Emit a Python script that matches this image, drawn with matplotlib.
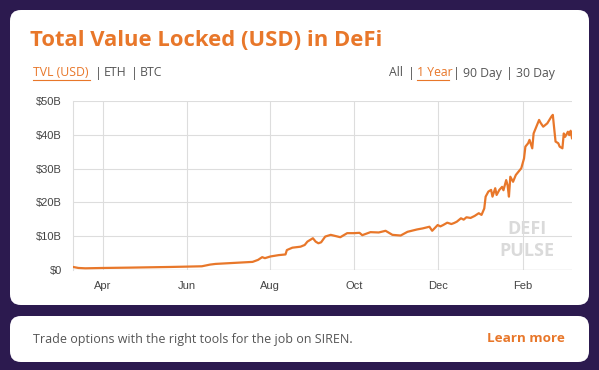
import numpy as np
import pandas as pd
import matplotlib
matplotlib.use("Agg")
import matplotlib.pyplot as plt
from matplotlib.patches import FancyBboxPatch
from matplotlib.lines import Line2D

# --- data ($B) ---
dates = [
    "2020-03-10", "2020-03-14", "2020-03-19", "2020-04-01", "2020-04-20", "2020-05-05",
    "2020-05-20", "2020-06-01", "2020-06-12", "2020-06-18", "2020-06-22", "2020-07-01",
    "2020-07-10", "2020-07-19", "2020-07-23", "2020-07-26", "2020-07-28", "2020-08-01",
    "2020-08-07", "2020-08-12", "2020-08-13", "2020-08-17", "2020-08-23", "2020-08-26",
    "2020-08-28", "2020-09-01", "2020-09-03", "2020-09-05", "2020-09-07", "2020-09-10",
    "2020-09-14", "2020-09-17", "2020-09-21", "2020-09-26", "2020-10-01", "2020-10-05",
    "2020-10-07", "2020-10-13", "2020-10-19", "2020-10-24", "2020-10-29", "2020-11-04",
    "2020-11-09", "2020-11-16", "2020-11-20", "2020-11-25", "2020-11-27", "2020-12-01",
    "2020-12-03", "2020-12-05", "2020-12-08", "2020-12-11", "2020-12-13", "2020-12-15",
    "2020-12-18", "2020-12-20", "2020-12-22", "2020-12-25", "2020-12-28", "2020-12-31",
    "2021-01-02", "2021-01-04", "2021-01-05", "2021-01-07", "2021-01-09", "2021-01-10",
    "2021-01-12", "2021-01-13", "2021-01-15", "2021-01-17", "2021-01-18", "2021-01-20",
    "2021-01-21", "2021-01-22", "2021-01-23", "2021-01-25", "2021-01-27", "2021-01-29",
    "2021-01-31", "2021-02-02", "2021-02-03", "2021-02-05", "2021-02-06", "2021-02-08",
    "2021-02-09", "2021-02-11", "2021-02-13", "2021-02-14", "2021-02-16", "2021-02-19",
    "2021-02-22", "2021-02-23", "2021-02-24", "2021-02-25", "2021-02-27", "2021-02-28",
    "2021-03-02", "2021-03-03", "2021-03-04", "2021-03-06", "2021-03-07", "2021-03-08",
    "2021-03-09",
]
tvl_b = [
    0.9, 0.6, 0.5, 0.6, 0.7, 0.8,
    0.9, 1.0, 1.1, 1.6, 1.8, 2.0,
    2.2, 2.4, 3.0, 3.8, 3.5, 4.0,
    4.4, 4.6, 5.9, 6.6, 6.9, 7.4,
    8.4, 9.4, 8.4, 7.9, 8.2, 9.9,
    10.4, 10.1, 9.7, 10.9, 10.9, 11.0,
    10.3, 11.2, 11.1, 11.6, 10.4, 10.2,
    11.3, 12.0, 12.3, 12.8, 11.6, 13.3,
    12.9, 13.3, 14.0, 13.6, 13.9, 14.3,
    15.3, 14.9, 15.6, 15.4, 16.0, 16.8,
    16.3, 18.2, 21.7, 23.2, 23.7, 21.7,
    24.2, 22.2, 23.7, 24.6, 23.6, 26.6,
    25.1, 21.7, 27.6, 26.1, 28.1, 29.1,
    30.1, 33.0, 36.5, 37.5, 38.5, 36.0,
    40.4, 42.4, 44.4, 43.6, 42.4, 43.4,
    45.4, 45.9, 41.9, 38.0, 37.5, 36.5,
    36.0, 40.4, 39.4, 40.9, 39.9, 41.2,
    39.0,
]
y_ticks = [0, 10, 20, 30, 40, 50]
y_tick_labels = ["$0", "$10B", "$20B", "$30B", "$40B", "$50B"]
x_tick_dates = ["2020-04-01", "2020-06-01", "2020-08-01", "2020-10-01", "2020-12-01", "2021-02-01"]
x_tick_labels = ["Apr", "Jun", "Aug", "Oct", "Dec", "Feb"]

W, H = 599, 370
PURPLE = "#2c1a4f"
ORANGE = "#e8772a"
GREY_TXT = "#555555"
UI_FONT = ["Open Sans", "DejaVu Sans"]


def fx(px):
    return px / W


def fy(py):
    return 1 - py / H


fig = plt.figure(figsize=(W / 100, H / 100), dpi=100, facecolor=PURPLE)

# cards (drawn under the axes)
for (x0, y0, x1, y1) in [(10, 10, 589, 305), (10, 316, 589, 362)]:
    card = FancyBboxPatch((fx(x0), fy(y1)), fx(x1 - x0), (y1 - y0) / H,
                          boxstyle="round,pad=0,rounding_size=0.018",
                          transform=fig.transFigure, fc="white", ec="none",
                          mutation_aspect=W / H, zorder=-5)
    fig.patches.append(card)

# titles and selectors
fig.text(fx(30), fy(40), "Total Value Locked (USD) in DeFi", color=ORANGE,
         fontsize=15.8, fontweight="bold", family=UI_FONT, va="center", ha="left")

def pieces(items, y):
    for x, s, col in items:
        fig.text(fx(x), fy(y), s, color=col, fontsize=8.8, family=UI_FONT,
                 va="center", ha="left")

pieces([(33, "TVL (USD)", ORANGE), (95, "|", GREY_TXT), (104, "ETH", GREY_TXT),
        (131, "|", GREY_TXT), (140, "BTC", GREY_TXT)], 73)
pieces([(389, "All", GREY_TXT), (408, "|", GREY_TXT), (417, "1 Year", ORANGE),
        (453, "|", GREY_TXT), (463, "90 Day", GREY_TXT), (506, "|", GREY_TXT),
        (516, "30 Day", GREY_TXT)], 73)
for x0, x1 in [(33, 90), (417, 449)]:
    fig.lines.append(Line2D([fx(x0), fx(x1)], [fy(80), fy(80)], transform=fig.transFigure,
                            color=ORANGE, lw=0.8))

# chart
ax = fig.add_axes([fx(73), fy(270), fx(572 - 73), (270 - 101) / H])
ax.patch.set_alpha(0)
d = pd.to_datetime(dates)
ax.plot(d, tvl_b, color=ORANGE, lw=1.6, solid_joinstyle="round", zorder=3)
ax.set_xlim(pd.Timestamp("2020-03-10"), pd.Timestamp("2021-03-09"))
ax.set_ylim(0, 50)
ax.set_yticks(y_ticks)
ax.set_yticklabels(y_tick_labels)
ax.set_xticks(pd.to_datetime(x_tick_dates))
ax.set_xticklabels(x_tick_labels)
ax.grid(True, color="#dddddd", lw=0.8)
ax.set_axisbelow(True)
for side in ["top", "right", "bottom"]:
    ax.spines[side].set_visible(False)
ax.spines["left"].set_color("#dddddd")
ax.spines["left"].set_linewidth(0.8)
ax.axhline(0, color="#cccccc", lw=0.9, zorder=1)
ax.tick_params(length=0, labelsize=8, labelcolor="#444444", pad=8)
for lab in ax.get_xticklabels() + ax.get_yticklabels():
    lab.set_family(["Liberation Sans", "DejaVu Sans"])

# watermark
for y, s in [(229, "DEFI"), (251, "PULSE")]:
    ax.text(fx(527), fy(y), s, color="#dadada", fontsize=13, fontweight="bold",
            family=UI_FONT, ha="center", va="center", zorder=0,
            transform=fig.transFigure)

# bottom banner
fig.text(fx(33), fy(339), "Trade options with the right tools for the job on SIREN.",
         color=GREY_TXT, fontsize=9, family=UI_FONT, ha="left", va="center")
fig.text(fx(565), fy(339), "Learn more", color=ORANGE, fontsize=9.7, fontweight="bold",
         family=UI_FONT, ha="right", va="center")

fig.savefig("out.png", dpi=100, facecolor=PURPLE)
